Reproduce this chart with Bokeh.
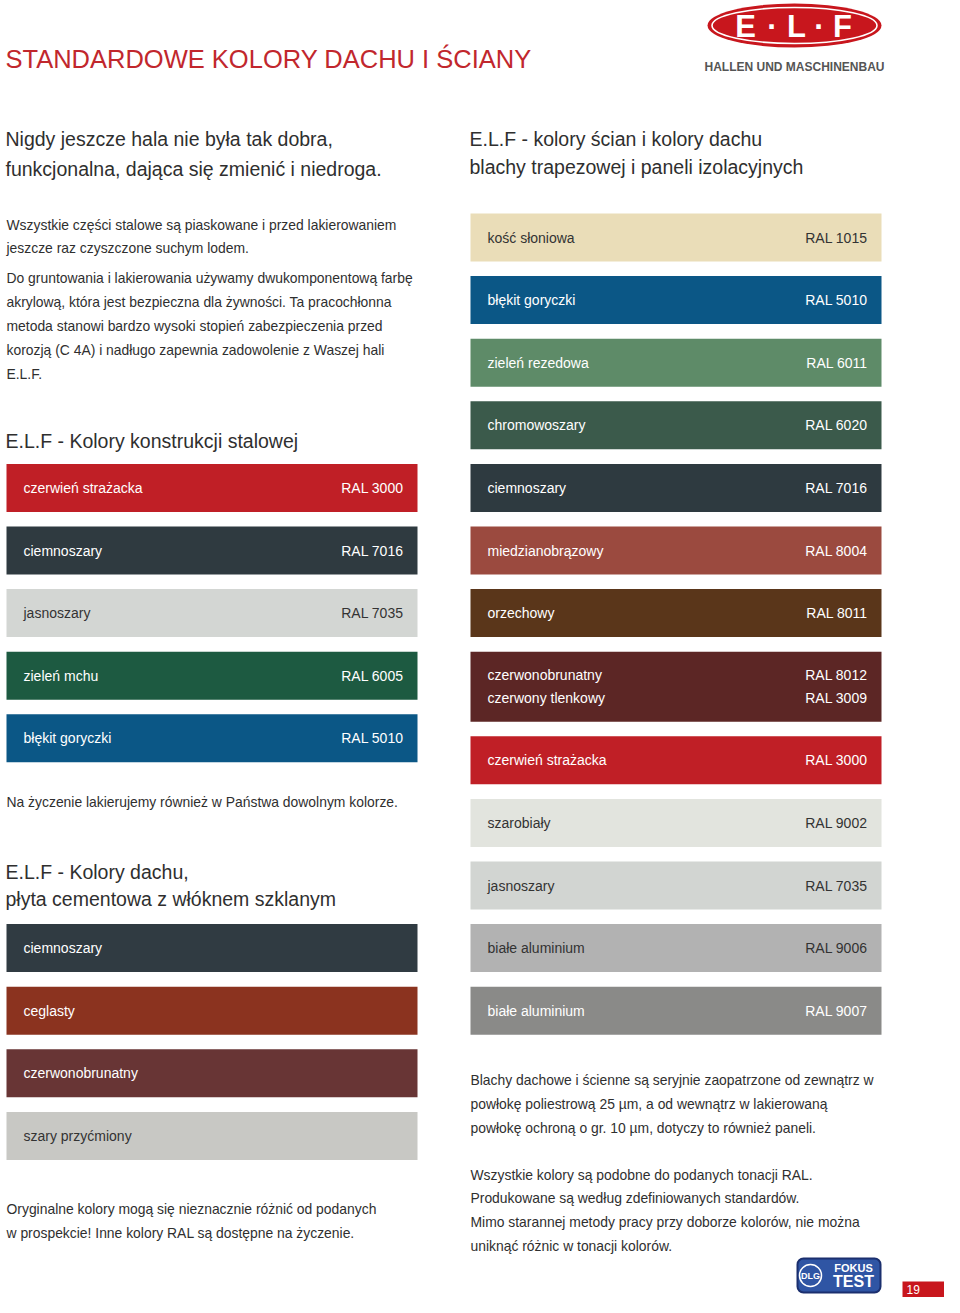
from bokeh.plotting import figure
from bokeh.models import Range1d, ColumnDataSource
from bokeh.core.properties import value
from bokeh.embed import file_html
from bokeh.resources import INLINE

# ---------------- data ----------------
title = "STANDARDOWE KOLORY DACHU I ŚCIANY"
brand_sub = "HALLEN UND MASCHINENBAU"
intro_heading = ["Nigdy jeszcze hala nie była tak dobra,",
                 "funkcjonalna, dająca się zmienić i niedroga."]
wall_heading = ["E.L.F - kolory ścian i kolory dachu",
                "blachy trapezowej i paneli izolacyjnych"]
intro_par1 = ["Wszystkie części stalowe są piaskowane i przed lakierowaniem",
              "jeszcze raz czyszczone suchym lodem."]
intro_par2 = ["Do gruntowania i lakierowania używamy dwukomponentową farbę",
              "akrylową, która jest bezpieczna dla żywności. Ta pracochłonna",
              "metoda stanowi bardzo wysoki stopień zabezpieczenia przed",
              "korozją (C 4A) i nadługo zapewnia zadowolenie z Waszej hali",
              "E.L.F."]

steel_heading = "E.L.F - Kolory konstrukcji stalowej"
steel_names = ["czerwień strażacka", "ciemnoszary", "jasnoszary", "zieleń mchu", "błękit goryczki"]
steel_ral = ["RAL 3000", "RAL 7016", "RAL 7035", "RAL 6005", "RAL 5010"]
steel_colors = ["#C01F26", "#2F3A40", "#D3D6D3", "#1D5A41", "#0B5786"]
custom_note = "Na życzenie lakierujemy również w Państwa dowolnym kolorze."

roof_heading = ["E.L.F - Kolory dachu,", "płyta cementowa z włóknem szklanym"]
roof_names = ["ciemnoszary", "ceglasty", "czerwonobrunatny", "szary przyćmiony"]
roof_colors = ["#303B42", "#8B331F", "#683535", "#C8C8C4"]
roof_note = ["Oryginalne kolory mogą się  nieznacznie różnić od podanych",
             "w prospekcie! Inne kolory RAL są dostępne na życzenie."]

wall_names = ["kość słoniowa", "błękit goryczki", "zieleń rezedowa", "chromowoszary",
              "ciemnoszary", "miedzianobrązowy", "orzechowy",
              "czerwonobrunatny\nczerwony tlenkowy", "czerwień strażacka", "szarobiały",
              "jasnoszary", "białe aluminium", "białe aluminium"]
wall_ral = ["RAL 1015", "RAL 5010", "RAL 6011", "RAL 6020", "RAL 7016", "RAL 8004",
            "RAL 8011", "RAL 8012\nRAL 3009", "RAL 3000", "RAL 9002", "RAL 7035",
            "RAL 9006", "RAL 9007"]
wall_colors = ["#EADDB8", "#0B5786", "#5E8B68", "#3B5A4B", "#2E3A40", "#9B4A3F",
               "#5A361A", "#5C2625", "#C01F26", "#E2E4DE", "#D2D5D2", "#B2B2B2", "#8A8A88"]
wall_note1 = ["Blachy dachowe i ścienne są seryjnie zaopatrzone od zewnątrz w",
              "powłokę poliestrową 25 µm, a od wewnątrz w lakierowaną",
              "powłokę ochroną o gr. 10 µm, dotyczy to również paneli."]
wall_note2 = ["Wszystkie kolory są podobne do podanych tonacji RAL.",
              "Produkowane są według zdefiniowanych standardów.",
              "Mimo starannej metody pracy przy doborze kolorów, nie można",
              "uniknąć różnic w tonacji kolorów."]
page_number = "19"

# ---------------- layout / style ----------------
FONT = "Liberation Sans"
RED = "#C1272D"
DARK = "#2F2F2F"
PITCH, SW_H, TALL, TOP0 = 62.6, 48, 22, 213
LEFT_X, RIGHT_X, COL_W = 6, 470, 411
W, H = 944, 1297
HEAD = "19.5px"
BODY = "13.9px"
LABEL = "14px"

p = figure(width=W, height=H, output_backend="svg", toolbar_location=None,
           x_range=Range1d(0, W), y_range=Range1d(H, 0), min_border=0,
           background_fill_color="white", border_fill_color="white")
p.axis.visible = False
p.grid.visible = False
p.outline_line_color = None


def put(x, ys, lines, size, color, align="left", bold=False, font=FONT):
    src = ColumnDataSource(dict(x=[x] * len(lines), y=list(ys), t=list(lines)))
    p.text(x="x", y="y", text="t", source=src, text_font=value(font),
           text_font_size=size, text_color=color, text_align=align,
           text_baseline="middle", text_font_style="bold" if bold else "normal")


def text_col(c):
    h = c.lstrip("#")
    r, g, b = (int(h[i:i + 2], 16) / 255 for i in (0, 2, 4))
    return "#333333" if 0.2126 * r + 0.7152 * g + 0.0722 * b > 0.6 else "white"


def swatches(x0, slots, names, rals, colors, tall_after):
    lefts, rights, tops, bottoms = [], [], [], []
    for k, name in zip(slots, names):
        top = TOP0 + PITCH * k + (TALL if k > tall_after else 0)
        h = SW_H + (TALL if "\n" in name else 0)
        lefts.append(x0); rights.append(x0 + COL_W)
        tops.append(top); bottoms.append(top + h)
    p.quad(left=lefts, right=rights, top=tops, bottom=bottoms,
           fill_color=colors, line_color=None)
    for i, name in enumerate(names):
        mid = (tops[i] + bottoms[i]) / 2
        parts = name.split("\n")
        ys = [mid + (j - (len(parts) - 1) / 2) * 23.5 for j in range(len(parts))]
        tc = text_col(colors[i])
        put(x0 + 17, ys, parts, LABEL, tc)
        if rals is not None:
            rparts = rals[i].split("\n")
            put(x0 + COL_W - 14, ys, rparts, LABEL, tc, align="right")


# title + logo
put(5, [58], [title], "25.5px", RED)
p.ellipse(x=[794], y=[25], width=[174], height=[44], fill_color="#C8161D", line_color=None)
p.ellipse(x=[794], y=[25], width=[165], height=[36], fill_color=None,
          line_color="white", line_width=1.6)
for lx, letter in zip([745, 772, 796, 819, 842], ["E", "·", "L", "·", "F"]):
    put(lx, [26], [letter], "31px", "white", align="center", bold=True)
put(794, [66], [brand_sub], "12px", "#555555", align="center", bold=True)

# headings
put(5, [138, 168], intro_heading, HEAD, DARK)
put(469, [138, 166], wall_heading, HEAD, DARK)

# intro text
put(6, [224, 247], intro_par1, BODY, DARK)
put(6, [277 + 24 * i for i in range(len(intro_par2))], intro_par2, BODY, DARK)

# steel colours
put(5, [440], [steel_heading], HEAD, DARK)
swatches(LEFT_X, range(4, 4 + len(steel_names)), steel_names, steel_ral, steel_colors, 99)
put(6, [801], [custom_note], BODY, DARK)

# roof colours (cement plate)
put(5, [871, 898], roof_heading, HEAD, DARK)
swatches(LEFT_X, range(11, 11 + len(roof_names)), roof_names, None, roof_colors, 7)
put(6, [1208, 1232], roof_note, BODY, DARK)

# wall / roof sheet colours
swatches(RIGHT_X, range(len(wall_names)), wall_names, wall_ral, wall_colors, 7)
put(470, [1079 + 24 * i for i in range(len(wall_note1))], wall_note1, BODY, DARK)
put(470, [1174 + 23.7 * i for i in range(len(wall_note2))], wall_note2, BODY, DARK)

# DLG badge
p.quad(left=[797], right=[880], top=[1258], bottom=[1292], fill_color="#2F55A4",
       line_color="#1B2F6E", line_width=2, border_radius=6)
p.circle(x=[810], y=[1275], radius=11, fill_color=None, line_color="white", line_width=1.5)
put(810, [1275], ["DLG"], "9px", "white", align="center", bold=True)
put(853, [1267], ["FOKUS"], "11px", "white", align="center", bold=True)
put(853, [1281], ["TEST"], "16px", "white", align="center", bold=True)

# page number
p.quad(left=[902], right=[960], top=[1281], bottom=[1297], fill_color="#C8161D", line_color=None)
put(906, [1288.5], [page_number], "12px", "white")

open("out.html", "w").write(file_html(p, INLINE))
